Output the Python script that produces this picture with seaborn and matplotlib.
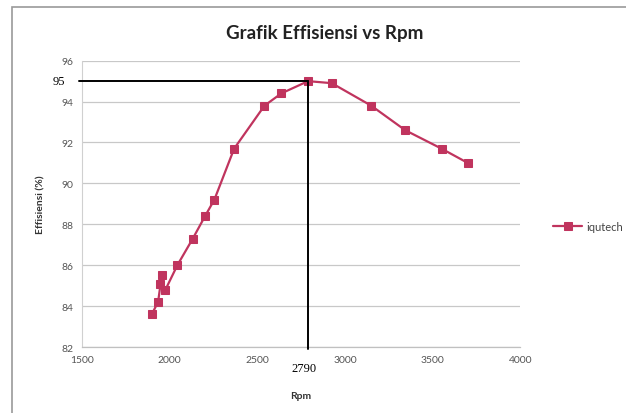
import matplotlib
matplotlib.use("Agg")
import matplotlib.pyplot as plt
import seaborn as sns
import pandas as pd
from matplotlib.patches import Rectangle

# Measured efficiency against shaft speed
rpm = [1898, 1934, 1955, 1945, 1976, 2044, 2132, 2202, 2255, 2368,
       2541, 2637, 2790, 2925, 3150, 3344, 3551, 3701]
efisiensi = [83.6, 84.2, 85.5, 85.1, 84.8, 86.0, 87.3, 88.4, 89.2, 91.7,
             93.8, 94.4, 95.0, 94.9, 93.8, 92.6, 91.7, 91.0]
series_name = "iqutech"

peak_rpm = 2790
peak_eff = 95

x_ticks = [1500, 2000, 2500, 3000, 3500, 4000]
y_ticks = [82, 84, 86, 88, 90, 92, 94, 96]

df = pd.DataFrame({"Rpm": rpm, "Effisiensi": efisiensi, "seri": series_name})

sns.set_theme(style="white")
plt.rcParams["font.family"] = ["Lato", "DejaVu Sans"]

fig = plt.figure(figsize=(6.26, 4.14), dpi=100)
ax = fig.add_axes([0.131, 0.1594, 0.70, 0.6916])

color = "#C0345E"
sns.lineplot(data=df, x="Rpm", y="Effisiensi", hue="seri", palette=[color],
             sort=False, marker="s", markersize=5.5, markeredgecolor=color,
             linewidth=1.6, ax=ax, legend=True, zorder=3)

ax.set_xlim(1500, 4000)
ax.set_ylim(82, 96)
ax.set_xticks(x_ticks)
ax.set_yticks(y_ticks)
ax.tick_params(axis="both", labelsize=7.5, colors="#555555", length=0, pad=6)
ax.yaxis.grid(True, color="#C8C8C8", linewidth=0.9)
ax.xaxis.grid(False)
for side in ["top", "right"]:
    ax.spines[side].set_visible(False)
ax.spines["left"].set_color("#D0D0D0")
ax.spines["bottom"].set_color("#C0C0C0")
ax.spines["left"].set_linewidth(0.8)
ax.spines["bottom"].set_linewidth(0.9)

ax.set_xlabel("Rpm", fontsize=7.5, fontweight="bold", color="#333333", labelpad=19)
ax.set_ylabel("Effisiensi (%)", fontsize=7.5, fontweight="bold", color="#333333", labelpad=12)

# Guide lines to the peak
ax.plot([1480, peak_rpm], [peak_eff, peak_eff], color="black", linewidth=1.4,
        clip_on=False, zorder=4)
ax.plot([peak_rpm, peak_rpm], [81.9, peak_eff], color="black", linewidth=1.4,
        clip_on=False, zorder=4)
ax.text(1405, peak_eff, str(peak_eff), ha="right", va="center", fontsize=9,
        family="Liberation Serif", color="black")
ax.text(peak_rpm - 25, 80.95, str(peak_rpm), ha="center", va="center", fontsize=9,
        family="Liberation Serif", color="black")

fig.suptitle("Grafik Effisiensi vs Rpm", x=0.518, y=0.94, fontsize=13.5,
             fontweight="bold", color="#222222")

leg = ax.legend(loc="center left", bbox_to_anchor=(1.075, 0.42), frameon=False,
                fontsize=8, handlelength=2.6, handletextpad=0.4,
                borderaxespad=0, borderpad=0)
for t in leg.get_texts():
    t.set_color("#444444")

# Chart frame
fig.patches.append(Rectangle((12 / 626, -0.01), 1.0, 1 - 8 / 414 + 0.01,
                             transform=fig.transFigure, fill=False,
                             edgecolor="#9A9A9A", linewidth=1.2))

fig.savefig("out.png", dpi=100)
